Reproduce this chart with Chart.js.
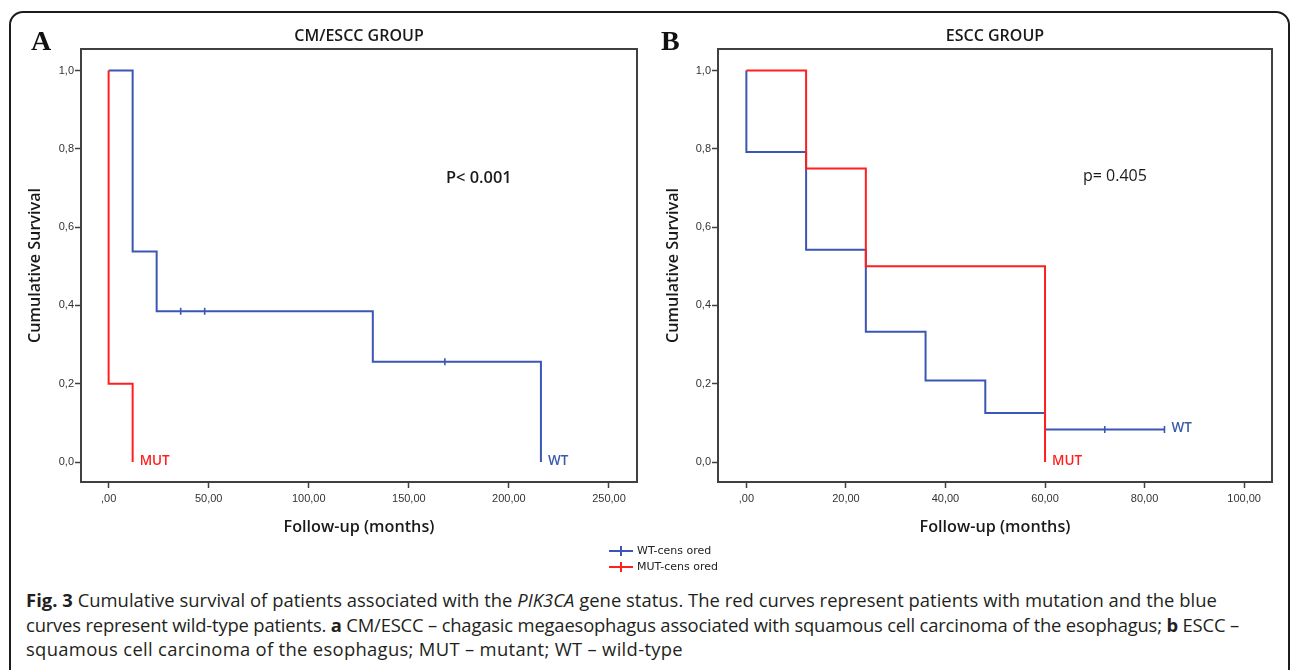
<!DOCTYPE html>
<html>
<head>
<meta charset="utf-8">
<script src="https://cdn.jsdelivr.net/npm/chart.js@4"></script>
<style>
  html,body{margin:0;padding:0;background:#fff;}
  body{width:1292px;height:670px;position:relative;overflow:hidden;font-family:"Open Sans",sans-serif;}
  .frame{position:absolute;left:9px;top:11px;width:1277px;height:720px;border:2px solid #1c1c1c;border-radius:14px;}
  canvas{position:absolute;top:0;}
  #chartA{left:0;}
  #chartB{left:640px;}
  .legend{position:absolute;left:609px;top:543px;font:11px "DejaVu Sans",sans-serif;color:#222;}
  .lg-row{position:relative;height:16px;width:120px;}
  .lg-line{position:absolute;left:0;top:7px;width:24px;height:2px;}
  .lg-tick{position:absolute;left:11px;top:3px;width:2px;height:10px;}
  .lg-text{position:absolute;left:28px;top:0;line-height:16px;white-space:nowrap;}
  .caption{position:absolute;left:26px;top:588px;font-size:18.4px;line-height:24.5px;color:#231f20;white-space:nowrap;}
  .caption div{display:table;}
  .caption b{font-weight:700;}
</style>
</head>
<body>
<div class="frame"></div>
<canvas id="chartA" width="650" height="545"></canvas>
<canvas id="chartB" width="652" height="545"></canvas>

<div class="legend">
  <div class="lg-row"><div class="lg-line" id="lgBlue"></div><div class="lg-tick" id="lgBlueT"></div><div class="lg-text">WT-cens ored</div></div>
  <div class="lg-row"><div class="lg-line" id="lgRed"></div><div class="lg-tick" id="lgRedT"></div><div class="lg-text">MUT-cens ored</div></div>
</div>

<div class="caption" id="caption">
  <div><b>Fig. 3</b> Cumulative survival of patients associated with the <i>PIK3CA</i> gene status. The red curves represent patients with mutation and the blue</div>
  <div>curves represent wild-type patients. <b>a</b> CM/ESCC – chagasic megaesophagus associated with squamous cell carcinoma of the esophagus; <b>b</b> ESCC –</div>
  <div>squamous cell carcinoma of the esophagus; MUT – mutant; WT – wild-type</div>
</div>

<script>
// ---- data ----
// Panel A: CM/ESCC group
const wtTimeA = [0, 12, 24, 36, 48, 132, 168, 216];
const wtSurvA = [1, 0.538, 0.385, 0.385, 0.385, 0.256, 0.256, 0];
const wtCensA = [0, 0, 0, 1, 1, 0, 1, 0];
const mutTimeA = [0, 0, 12];
const mutSurvA = [1, 0.2, 0];

// Panel B: ESCC group
const wtTimeB = [0, 0, 12, 24, 36, 48, 60, 72, 84];
const wtSurvB = [1, 0.792, 0.542, 0.333, 0.208, 0.125, 0.083, 0.083, 0.083];
const wtCensB = [0, 0, 0, 0, 0, 0, 0, 1, 1];
const mutTimeB = [0, 12, 24, 60];
const mutSurvB = [1, 0.75, 0.5, 0];

// ticks
const xTickValuesA = [0, 50, 100, 150, 200, 250];
const xTickLabelsA = [",00", "50,00", "100,00", "150,00", "200,00", "250,00"];
const xTickValuesB = [0, 20, 40, 60, 80, 100];
const xTickLabelsB = [",00", "20,00", "40,00", "60,00", "80,00", "100,00"];
const yTickValues = [0, 0.2, 0.4, 0.6, 0.8, 1.0];
const yTickLabels = ["0,0", "0,2", "0,4", "0,6", "0,8", "1,0"];

const BLUE = "#3b56b4";
const RED = "#ff1f1f";
const AXIS = "#404040";

document.getElementById("lgBlue").style.background = BLUE;
document.getElementById("lgBlueT").style.background = BLUE;
document.getElementById("lgRed").style.background = RED;
document.getElementById("lgRedT").style.background = RED;

// stretch caption lines to the widths they have in the figure
const captionWidths = [1191, 1213, 657];
document.querySelectorAll("#caption div").forEach((d, i) => {
  const w = d.getBoundingClientRect().width;
  const n = d.textContent.length;
  d.style.letterSpacing = ((captionWidths[i] - w) / n).toFixed(3) + "px";
});

const pts = (xs, ys) => xs.map((t, i) => ({ x: t, y: ys[i] }));

function series(label, xs, ys, cens, color){
  return {
    label,
    data: pts(xs, ys),
    stepped: "before",
    borderColor: color,
    backgroundColor: color,
    borderWidth: 2,
    fill: false,
    pointStyle: "line",
    rotation: 90,
    pointRadius: cens ? cens.map(c => c ? 3.5 : 0) : 0,
    pointBorderWidth: 1.6,
    pointBorderColor: color,
    pointHoverRadius: 0
  };
}

// draws the frame, panel letter, titles, p value and curve labels
const panelDecor = {
  id: "panelDecor",
  afterDraw(chart, args, o){
    const { ctx, chartArea: a, scales: { x, y } } = chart;
    ctx.save();
    ctx.strokeStyle = AXIS;
    ctx.lineWidth = 2;
    ctx.strokeRect(a.left, a.top, a.right - a.left, a.bottom - a.top);

    ctx.fillStyle = "#111";
    ctx.font = "bold 28px 'Liberation Serif', serif";
    ctx.textAlign = "left";
    ctx.textBaseline = "alphabetic";
    ctx.fillText(o.letter, o.letterX, 50);

    ctx.textBaseline = "middle";
    ctx.textAlign = "center";
    ctx.fillStyle = "#1a1a1a";
    ctx.font = "600 16px 'Open Sans', sans-serif";
    ctx.fillText(o.title, (a.left + a.right) / 2, 36);

    ctx.font = "600 16.2px 'Open Sans', sans-serif";
    ctx.fillText("Follow-up (months)", (a.left + a.right) / 2, 527);

    ctx.save();
    ctx.translate(o.yTitleX, (a.top + a.bottom) / 2);
    ctx.rotate(-Math.PI / 2);
    ctx.fillText("Cumulative Survival", 0, 0);
    ctx.restore();

    ctx.textAlign = "left";
    ctx.font = o.pBold ? "600 16.4px 'Open Sans', sans-serif" : "16px 'Open Sans', sans-serif";
    ctx.fillText(o.pText, o.pX, o.pY);

    // curve end labels
    ctx.font = "600 13.5px 'Open Sans', sans-serif";
    chart.data.datasets.forEach(ds => {
      const last = ds.data[ds.data.length - 1];
      ctx.fillStyle = ds.label === "MUT" ? RED : "#3a5ca8";
      ctx.fillText(ds.label, x.getPixelForValue(last.x) + 7, y.getPixelForValue(last.y) - 1);
    });
    ctx.restore();
  }
};

function makeChart(id, mutData, wtData, xMin, xMax, xVals, xLabels, yAxisWidth, rightPad, decor){
  return new Chart(document.getElementById(id), {
    type: "line",
    data: { datasets: [mutData, wtData] },
    options: {
      responsive: false,
      animation: false,
      layout: { padding: { left: 0, top: 49, right: rightPad, bottom: 0 } },
      plugins: { legend: { display: false }, tooltip: { enabled: false }, panelDecor: decor },
      scales: {
        x: {
          type: "linear",
          min: xMin, max: xMax,
          afterBuildTicks: s => { s.ticks = xVals.map(v => ({ value: v })); },
          afterFit: s => { s.height = 63; },
          grid: { drawOnChartArea: false, drawTicks: true, tickLength: 6, tickColor: AXIS, tickWidth: 1.5 },
          border: { display: false },
          ticks: {
            autoSkip: false, maxRotation: 0, padding: 4,
            color: "#333", font: { family: "'Liberation Sans', Arial, sans-serif", size: 11 },
            callback: (v, i) => xLabels[i]
          }
        },
        y: {
          type: "linear",
          min: -0.051, max: 1.055,
          afterBuildTicks: s => { s.ticks = yTickValues.map(v => ({ value: v })); },
          afterFit: s => { s.width = yAxisWidth; },
          grid: { drawOnChartArea: false, drawTicks: true, tickLength: 6, tickColor: AXIS, tickWidth: 1.5 },
          border: { display: false },
          ticks: {
            autoSkip: false, padding: 1,
            color: "#333", font: { family: "'Liberation Sans', Arial, sans-serif", size: 11 },
            callback: (v, i) => yTickLabels[i]
          }
        }
      }
    },
    plugins: [panelDecor]
  });
}

makeChart("chartA",
  series("MUT", mutTimeA, mutSurvA, null, RED),
  series("WT", wtTimeA, wtSurvA, wtCensA, BLUE),
  -13.8, 264, xTickValuesA, xTickLabelsA, 81, 13,
  { letter: "A", letterX: 31, title: "CM/ESCC GROUP", yTitleX: 35, pText: "P< 0.001", pBold: true, pX: 446, pY: 178 });

makeChart("chartB",
  series("MUT", mutTimeB, mutSurvB, null, RED),
  series("WT", wtTimeB, wtSurvB, wtCensB, BLUE),
  -5.7, 105.6, xTickValuesB, xTickLabelsB, 78, 20,
  { letter: "B", letterX: 21, title: "ESCC GROUP", yTitleX: 33, pText: "p= 0.405", pBold: false, pX: 443, pY: 176 });
</script>
</body>
</html>
